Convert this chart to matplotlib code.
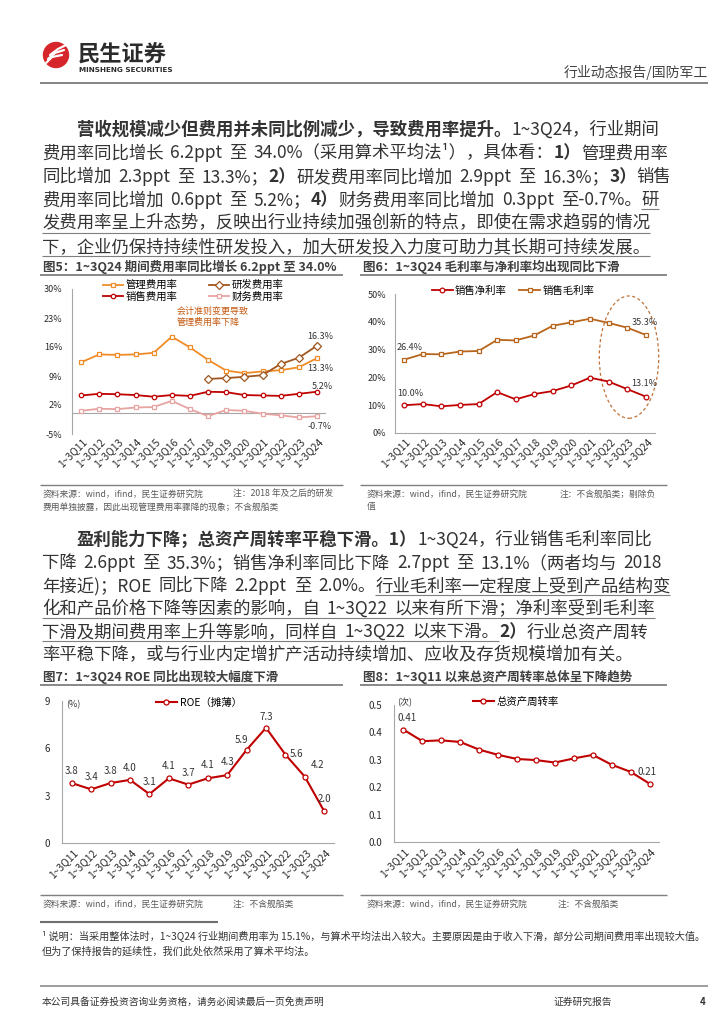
import matplotlib
matplotlib.use('Agg')
import matplotlib.pyplot as plt
from matplotlib.patches import Circle, Ellipse
from matplotlib.transforms import ScaledTranslation

plt.rcParams['font.family'] = ['Noto Sans CJK SC', 'DejaVu Sans']
plt.rcParams['axes.unicode_minus'] = False

W, H = 724, 1024

# ---- data ----
quarters = ['1~3Q11', '1~3Q12', '1~3Q13', '1~3Q14', '1~3Q15', '1~3Q16', '1~3Q17',
            '1~3Q18', '1~3Q19', '1~3Q20', '1~3Q21', '1~3Q22', '1~3Q23', '1~3Q24']

admin_rate = [12.3, 14.2, 14.1, 14.2, 14.6, 18.5, 15.9, 12.9, 10.3, 9.7, 10.1, 10.4, 11.1, 13.3]
rd_rate = [None, None, None, None, None, None, None, 8.3, 8.5, 8.8, 9.2, 11.9, 13.4, 16.3]
sales_rate = [4.3, 4.7, 4.6, 4.4, 4.0, 4.4, 4.2, 5.2, 5.1, 4.4, 4.3, 4.2, 4.7, 5.2]
fin_rate = [0.6, 1.1, 1.0, 1.4, 1.5, 3.0, 1.0, -0.7, 0.8, 0.6, -0.1, -0.5, -1.0, -0.7]

net_margin = [10.0, 10.4, 9.6, 10.1, 10.4, 14.7, 12.1, 14.0, 15.1, 17.1, 19.9, 18.5, 15.8, 13.1]
gross_margin = [26.4, 28.4, 28.3, 29.3, 29.5, 33.5, 33.3, 35.1, 38.6, 39.8, 41.1, 39.6, 37.9, 35.3]

roe = [3.8, 3.4, 3.8, 4.0, 3.1, 4.1, 3.7, 4.1, 4.3, 5.9, 7.3, 5.6, 4.2, 2.0]
turnover = [0.41, 0.368, 0.371, 0.365, 0.337, 0.318, 0.303, 0.299, 0.290, 0.305, 0.318, 0.282, 0.256, 0.213]

TXT = '#333333'
AXC = '#A6A6A6'
ORANGE = '#F08C28'
BROWN = '#A0561E'
RED = '#C00000'
PINK = '#E8A3A3'
GOLD = '#B8651B'

fig = plt.figure(figsize=(W / 100, H / 100), dpi=100)
bg = fig.add_axes([0, 0, 1, 1])
bg.set_xlim(0, W)
bg.set_ylim(H, 0)
bg.axis('off')
renderer = fig.canvas.get_renderer()


def hline(x0, x1, y, color='#7F7F7F', lw=1.0):
    bg.plot([x0, x1], [y, y], color=color, lw=lw, solid_capstyle='butt')


def put(x, y, s, size, st):
    t = bg.text(x, y, s, fontsize=size, color=TXT, va='baseline', ha='left',
                fontweight='bold' if st == 'b' else 'normal')
    return t.get_window_extent(renderer).width


def text_line(x, y, runs, size, right=None):
    # split runs into words; the spaces may widen a little to justify the line
    words = []
    for txt, st in runs:
        parts = txt.split(' ')
        for k, p in enumerate(parts):
            words.append((p, st, k > 0))
    sp = size * 100 / 72 * 0.28
    gaps = sum(1 for w in words if w[2])
    if right is not None and gaps:
        probe = [bg.text(0, 0, w[0], fontsize=size, fontweight='bold' if w[1] == 'b' else 'normal')
                 for w in words]
        natural = sum(p.get_window_extent(renderer).width for p in probe) + gaps * sp
        for p in probe:
            p.remove()
        sp = sp + min(max(0, right - x - natural) / gaps, 2.0)
    ul_start = None
    x_prev_end = x
    for s, st, gap in words:
        if gap:
            x += sp
        if st == 'u' and ul_start is None:
            ul_start = x
        w = put(x, y, s, size, st)
        if st != 'u' and ul_start is not None:
            hline(ul_start, x_prev_end, y + 4, lw=0.8)
            ul_start = None
        x += w
        x_prev_end = x
    if ul_start is not None:
        hline(ul_start, x, y + 4, lw=0.8)


def add_ax(left, top, right, bottom):
    ax = fig.add_axes([left / W, 1 - bottom / H, (right - left) / W, (bottom - top) / H])
    ax.patch.set_alpha(0)
    return ax


def style_ax(ax, ylim, yticks, ylabels, ypad, xpad, size=6.5):
    ax.set_xlim(-0.5, 13.5)
    ax.set_ylim(*ylim)
    ax.set_yticks(yticks)
    ax.set_yticklabels(ylabels)
    ax.set_xticks(range(len(quarters)))
    ax.set_xticklabels(quarters, rotation=45, ha='right', va='center', rotation_mode='anchor')
    ax.tick_params(axis='both', length=0, colors='#2B2B2B')
    ax.tick_params(axis='y', pad=ypad, labelsize=size)
    ax.tick_params(axis='x', pad=xpad, labelsize=7.4)
    shift = ScaledTranslation(3 / 72, 0, fig.dpi_scale_trans)
    for lab in ax.get_xticklabels():
        lab.set_transform(lab.get_transform() + shift)
    for s in ['top', 'right']:
        ax.spines[s].set_visible(False)
    for s in ['left', 'bottom']:
        ax.spines[s].set_color(AXC)
        ax.spines[s].set_linewidth(0.8)


def chart_frame(x0, x1, title, y_title, y_bottom, sources):
    bg.text(x0 + 3, y_title, title, fontsize=9, fontweight='bold', color='#3F3F3F',
            va='center', ha='left')
    hline(x0, x1, y_title + 8, lw=1.3)
    hline(x0, x1, y_bottom, lw=1.0)
    for sx, sy, s in sources:
        bg.text(sx, sy, s, fontsize=6.3, color='#595959', va='center', ha='left')


# ---- header ----
bg.add_patch(Circle((56, 55), 12.5, color='#D6252B'))
for k in range(3):
    xs = [46 + k * 2, 52 + k * 3, 62 + k * 2]
    ys = [63 - k * 4, 57 - k * 4, 55 - k * 5]
    bg.plot(xs, ys, color='white', lw=1.6, solid_capstyle='round')
bg.text(78, 55, '民生证券', fontsize=16, fontweight='bold', color='#2B2B2B', va='center', ha='left')
bg.text(79, 70.5, 'MINSHENG SECURITIES', fontsize=5.2, fontweight='bold', color='#2B2B2B',
        va='center', ha='left', family='DejaVu Sans')
bg.text(708, 72, '行业动态报告/国防军工', fontsize=10, color='#444444', va='center', ha='right')
hline(40, 708, 83, color='#6F6F6F', lw=1.2)

# ---- paragraph 1 ----
BODY = 12.5
RIGHT = 682
ind = 2 * BODY * 100 / 72
para1 = [
    [('营收规模减少但费用并未同比例减少，导致费用率提升。', 'b'), ('1~3Q24，行业期间', 'n')],
    [('费用率同比增长 6.2ppt 至 34.0%（采用算术平均法¹），具体看：', 'n'), ('1）', 'b'), ('管理费用率', 'n')],
    [('同比增加 2.3ppt 至 13.3%；', 'n'), ('2）', 'b'), ('研发费用率同比增加 2.9ppt 至 16.3%；', 'n'),
     ('3）', 'b'), ('销售', 'n')],
    [('费用率同比增加 0.6ppt 至 5.2%；', 'n'), ('4）', 'b'), ('财务费用率同比增加 0.3ppt 至-0.7%。', 'n'),
     ('研', 'u')],
    [('发费用率呈上升态势，反映出行业持续加强创新的特点，即使在需求趋弱的情况', 'u')],
    [('下，企业仍保持持续性研发投入，加大研发投入力度可助力其长期可持续发展。', 'u')],
]
for i, runs in enumerate(para1):
    text_line(42 + (ind if i == 0 else 0), 135 + i * 23.4, runs, BODY,
              right=RIGHT if i < len(para1) - 1 else None)

# ---- paragraph 2 ----
para2 = [
    [('盈利能力下降；总资产周转率平稳下滑。1）', 'b'), ('1~3Q24，行业销售毛利率同比', 'n')],
    [('下降 2.6ppt 至 35.3%；销售净利率同比下降 2.7ppt 至 13.1%（两者均与 2018', 'n')],
    [('年接近)；ROE 同比下降 2.2ppt 至 2.0%。', 'n'), ('行业毛利率一定程度上受到产品结构变', 'u')],
    [('化和产品价格下降等因素的影响，自 1~3Q22 以来有所下滑；净利率受到毛利率', 'u')],
    [('下滑及期间费用率上升等影响，同样自 1~3Q22 以来下滑。', 'u'), ('2）', 'b'), ('行业总资产周转', 'n')],
    [('率平稳下降，或与行业内定增扩产活动持续增加、应收及存货规模增加有关。', 'n')],
]
for i, runs in enumerate(para2):
    text_line(42 + (ind if i == 0 else 0), 545 + i * 23.0, runs, BODY,
              right=RIGHT if i < len(para2) - 1 else None)

# ---- chart 5: expense ratios ----
chart_frame(40, 343, '图5：1~3Q24 期间费用率同比增长 6.2ppt 至 34.0%', 267, 485,
            [(43, 494, '资料来源：wind，ifind，民生证券研究院'),
             (233, 494, '注：2018 年及之后的研发'),
             (43, 507, '费用单独披露，因此出现管理费用率骤降的现象；不含舰船类')])
ax5 = add_ax(72, 289, 326, 434)
style_ax(ax5, (-5, 30), [-5, 2, 9, 16, 23, 30], ['-5%', '2%', '9%', '16%', '23%', '30%'], 7, 4)
ax5.spines['bottom'].set_visible(False)
ax5.axhline(0, color=AXC, lw=0.8)
x = range(len(quarters))
l_admin, = ax5.plot(x, admin_rate, color=ORANGE, lw=1.3, marker='s', ms=3.2, mfc='white',
                    mec=ORANGE, mew=0.9, label='管理费用率')
l_rd, = ax5.plot(x, [v if v is not None else float('nan') for v in rd_rate], color=BROWN, lw=1.3,
                 marker='D', ms=4, mfc='white', mec=BROWN, mew=0.9, label='研发费用率')
l_sales, = ax5.plot(x, sales_rate, color=RED, lw=1.3, marker='o', ms=3.2, mfc='white',
                    mec=RED, mew=0.9, label='销售费用率')
l_fin, = ax5.plot(x, fin_rate, color=PINK, lw=1.3, marker='s', ms=3.2, mfc='white',
                  mec=PINK, mew=0.9, label='财务费用率')
ax5.legend(handles=[l_admin, l_sales, l_rd, l_fin], ncol=2, frameon=False, fontsize=7.5,
           loc='upper left', bbox_to_anchor=(103, 280), bbox_transform=bg.transData,
           borderpad=0, borderaxespad=0, handlelength=1.9, handletextpad=0.3,
           columnspacing=3.0, labelspacing=0.15)
ax5.text(177, 317, '会计准则变更导致\n管理费用率下降', transform=bg.transData, fontsize=6.5,
         color='#C55A11', va='center', ha='left', linespacing=1.25)
for vals, dxy in [(rd_rate, (3, 9)), (admin_rate, (3, -10)), (sales_rate, (5, 5)), (fin_rate, (3, -10))]:
    ax5.annotate(f'{vals[-1]:.1f}%', (13, vals[-1]), xytext=dxy, textcoords='offset pixels',
                 ha='center', va='center', fontsize=6.5, color=TXT)

# ---- chart 6: margins ----
chart_frame(360, 667, '图6：1~3Q24 毛利率与净利率均出现同比下滑', 267, 485,
            [(367, 494, '资料来源：wind，ifind，民生证券研究院'),
             (560, 494, '注：不含舰船类；剔除负'),
             (367, 507, '值')])
ax6 = add_ax(395, 294, 655, 433)
style_ax(ax6, (0, 50), [0, 10, 20, 30, 40, 50], ['0%', '10%', '20%', '30%', '40%', '50%'], 6.5, 5)
l_net, = ax6.plot(x, net_margin, color=RED, lw=1.3, marker='o', ms=3.4, mfc='white', mec=RED,
                  mew=0.9, label='销售净利率')
l_gross, = ax6.plot(x, gross_margin, color=GOLD, lw=1.3, marker='s', ms=3.4, mfc='white',
                    mec=GOLD, mew=0.9, label='销售毛利率')
ax6.legend(handles=[l_net, l_gross], ncol=2, frameon=False, fontsize=7.5, loc='center left',
           bbox_to_anchor=(432, 291), bbox_transform=bg.transData, borderpad=0, borderaxespad=0,
           handlelength=2.0, handletextpad=0.2, columnspacing=1.2)
for vals, idx, dxy in [(gross_margin, 0, (5, 12)), (net_margin, 0, (6, 12)),
                       (gross_margin, 13, (-1, 12)), (net_margin, 13, (-1, 13))]:
    ax6.annotate(f'{vals[idx]:.1f}%', (idx, vals[idx]), xytext=dxy, textcoords='offset pixels',
                 ha='center', va='center', fontsize=6.5, color=TXT)
ax6.add_patch(Ellipse((12.1, 27.3), 3.2, 44, fill=False, ec='#C0733A', lw=0.9,
                      ls=(0, (2.5, 2)), clip_on=False))

# ---- chart 7: ROE ----
chart_frame(40, 343, '图7：1~3Q24 ROE 同比出现较大幅度下滑', 677, 895,
            [(43, 904, '资料来源：wind，ifind，民生证券研究院'),
             (233, 904, '注：不含舰船类')])
ax7 = add_ax(62, 701, 334, 843)
style_ax(ax7, (0, 9), [0, 3, 6, 9], ['0', '3', '6', '9'], 8.5, 6, size=7)
l_roe, = ax7.plot(x, roe, color=RED, lw=1.5, marker='o', ms=3.6, mfc='white', mec=RED,
                  mew=0.9, label='ROE（摊薄）')
ax7.legend(handles=[l_roe], frameon=False, fontsize=7.5, loc='center left',
           bbox_to_anchor=(156, 703), bbox_transform=bg.transData, borderpad=0, borderaxespad=0,
           handlelength=2.0, handletextpad=0.3)
ax7.text(66, 705, '(%)', transform=bg.transData, fontsize=6.5, color=TXT, va='center', ha='left')
roe_offsets = [(0, 12), (0, 12), (0, 12), (0, 12), (0, 12), (0, 12), (0, 12),
               (0, 13), (0, 13), (-5, 10), (0, 11), (11, 1), (13, 12), (0, 12)]
for i, v in enumerate(roe):
    ax7.annotate(f'{v:.1f}', (i, v), xytext=roe_offsets[i], textcoords='offset pixels',
                 ha='center', va='center', fontsize=7, color=TXT)

# ---- chart 8: asset turnover ----
chart_frame(360, 667, '图8：1~3Q11 以来总资产周转率总体呈下降趋势', 677, 895,
            [(367, 904, '资料来源：wind，ifind，民生证券研究院'),
             (558, 904, '注：不含舰船类')])
ax8 = add_ax(394, 705, 659, 842)
style_ax(ax8, (0, 0.5), [0, 0.1, 0.2, 0.3, 0.4, 0.5], ['0.0', '0.1', '0.2', '0.3', '0.4', '0.5'],
         8.5, 6, size=7)
l_turn, = ax8.plot(x, turnover, color=RED, lw=1.5, marker='o', ms=3.6, mfc='white', mec=RED,
                   mew=0.9, label='总资产周转率')
ax8.legend(handles=[l_turn], frameon=False, fontsize=7.5, loc='center left',
           bbox_to_anchor=(473, 702), bbox_transform=bg.transData, borderpad=0, borderaxespad=0,
           handlelength=2.0, handletextpad=0.3)
ax8.text(397, 703, '(次)', transform=bg.transData, fontsize=6.5, color=TXT, va='center', ha='left')
for idx, dxy in [(0, (4, 12)), (13, (-2, 12))]:
    ax8.annotate(f'{turnover[idx]:.2f}', (idx, turnover[idx]), xytext=dxy, textcoords='offset pixels',
                 ha='center', va='center', fontsize=7, color=TXT)

# ---- footnote and footer ----
hline(40, 218, 922, color='#6F6F6F', lw=1.5)
bg.text(42, 937, '¹ 说明：当采用整体法时，1~3Q24 行业期间费用率为 15.1%，与算术平均法出入较大。'
        '主要原因是由于收入下滑，部分公司期间费用率出现较大值。', fontsize=7.3, color=TXT,
        va='center', ha='left')
bg.text(42, 951, '但为了保持报告的延续性，我们此处依然采用了算术平均法。', fontsize=7.3, color=TXT,
        va='center', ha='left')
hline(40, 708, 986, color='#8C8C8C', lw=1.2)
bg.text(42, 1002, '本公司具备证券投资咨询业务资格，请务必阅读最后一页免责声明', fontsize=7, color=TXT,
        va='center', ha='left')
bg.text(553, 1002, '证券研究报告', fontsize=7, color=TXT, va='center', ha='left')
bg.text(706, 1002, '4', fontsize=7, fontweight='bold', color=TXT, va='center', ha='right')

fig.savefig('out.png', dpi=100)
